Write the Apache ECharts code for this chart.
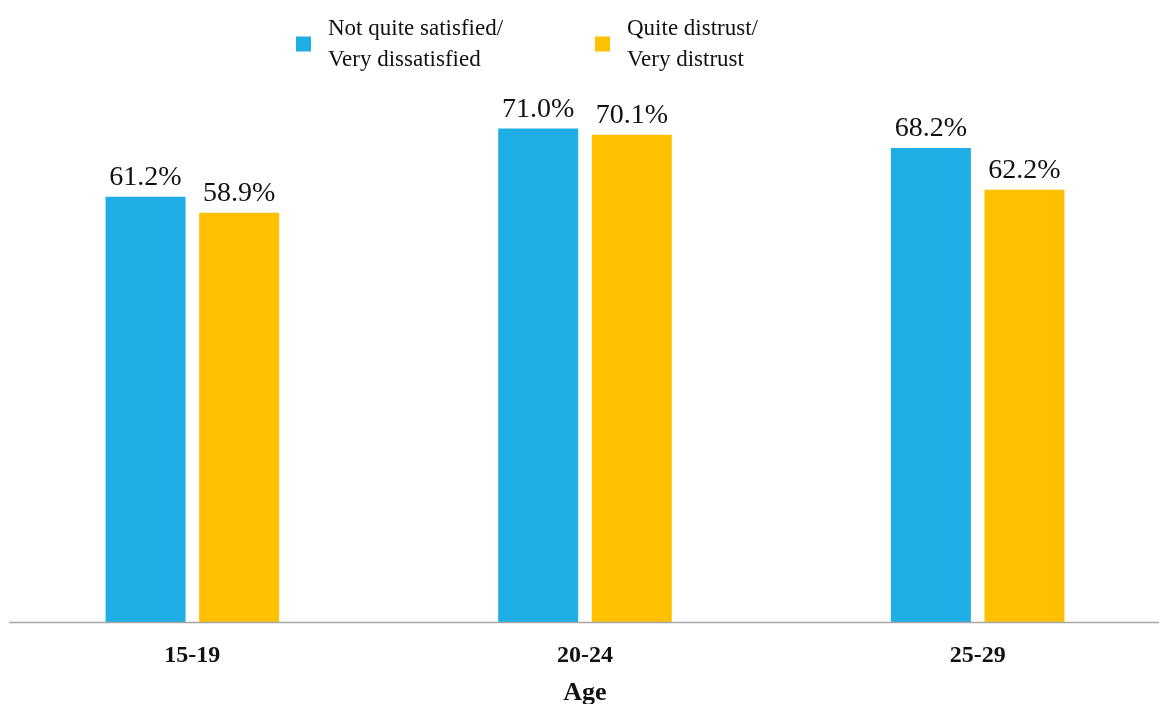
<!DOCTYPE html>
<html>
<head>
<meta charset="utf-8">
<title>Dissatisfaction and distrust by age</title>
<script src="https://cdn.jsdelivr.net/npm/echarts@6/dist/echarts.min.js"></script>
<style>
  html, body { margin: 0; padding: 0; background: #ffffff; }
  #chart { width: 1159px; height: 704px; }
</style>
</head>
<body>
<div id="chart"></div>
<script>
// Age groups along the x axis
const ageGroups = ['15-19', '20-24', '25-29'];

// Share of respondents (%) per age group
const dissatisfied = [61.2, 71.0, 68.2];
const distrust = [58.9, 70.1, 62.2];

const seriesNames = ['Not quite satisfied/\nVery dissatisfied', 'Quite distrust/\nVery distrust'];
const colors = ['#1EADE4', '#FFC000'];
const serif = '"Liberation Serif", "Times New Roman", serif';

const chart = echarts.init(document.getElementById('chart'));

const labelStyle = {
  show: true,
  position: 'top',
  distance: 5,
  fontFamily: serif,
  fontSize: 28,
  color: '#111111',
  formatter: p => p.value.toFixed(1) + '%'
};

const legendText = {
  fontFamily: serif,
  fontSize: 23,
  lineHeight: 31,
  color: '#111111',
  padding: [0, 0, 0, 12]
};

chart.setOption({
  animation: false,
  backgroundColor: '#ffffff',
  legend: [
    {
      data: [seriesNames[0]],
      left: 291,
      top: 8,
      itemWidth: 15,
      itemHeight: 15,
      icon: 'rect',
      textStyle: legendText
    },
    {
      data: [seriesNames[1]],
      left: 590,
      top: 8,
      itemWidth: 15,
      itemHeight: 15,
      icon: 'rect',
      textStyle: legendText
    }
  ],
  grid: {
    left: -4,
    right: -15,
    top: 66,
    bottom: 82,
    containLabel: false,
    outerBoundsMode: 'none'
  },
  xAxis: {
    type: 'category',
    data: ageGroups,
    axisLine: { show: false },
    axisTick: { show: false },
    axisLabel: {
      margin: 22,
      fontFamily: serif,
      fontWeight: 'bold',
      fontSize: 24,
      color: '#111111'
    },
    name: 'Age',
    nameLocation: 'middle',
    nameGap: 58,
    nameTextStyle: {
      fontFamily: serif,
      fontWeight: 'bold',
      fontSize: 26,
      color: '#111111'
    }
  },
  yAxis: {
    type: 'value',
    min: 0,
    max: 80,
    show: false,
    splitLine: { show: false }
  },
  series: [
    {
      name: seriesNames[0],
      type: 'bar',
      data: dissatisfied,
      barWidth: 80,
      barGap: '17%',
      itemStyle: { color: colors[0] },
      label: labelStyle
    },
    {
      name: seriesNames[1],
      type: 'bar',
      data: distrust,
      barWidth: 80,
      barGap: '17%',
      itemStyle: { color: colors[1] },
      label: labelStyle
    }
  ]
});

// Baseline drawn at the y = 0 position of the value axis
const baseY = Math.round(chart.convertToPixel({ yAxisIndex: 0 }, 0)) + 0.5;
chart.setOption({
  graphic: [{
    type: 'line',
    shape: { x1: 9, y1: baseY, x2: 1159, y2: baseY },
    style: { stroke: '#A6A6A6', lineWidth: 1.5 },
    z: 10
  }]
});
</script>
</body>
</html>
